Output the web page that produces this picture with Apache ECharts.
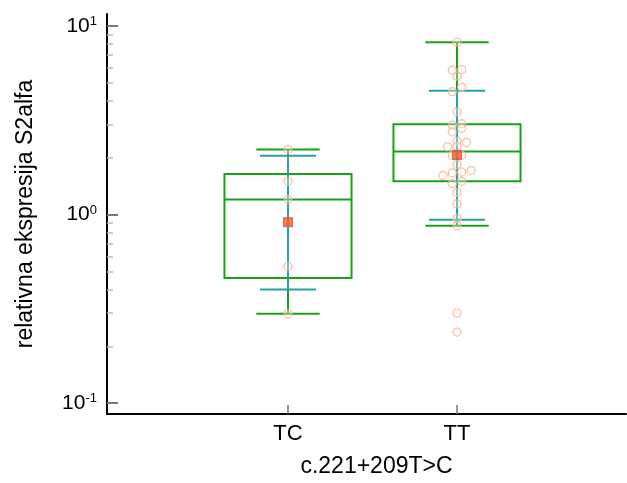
<!DOCTYPE html>
<html>
<head>
<meta charset="utf-8">
<script src="https://cdn.jsdelivr.net/npm/echarts@6/dist/echarts.min.js"></script>
<style>
html,body{margin:0;padding:0;background:#fff;}
#chart{width:627px;height:483px;}
</style>
</head>
<body>
<div id="chart"></div>
<script>
// ---- data ----
const categories = ['TC', 'TT'];
const boxQ1 = [0.46, 1.50];
const boxMedian = [1.20, 2.16];
const boxQ3 = [1.64, 3.01];
const whiskerLow = [0.298, 0.873];
const whiskerHigh = [2.21, 8.2];
const meanValues = [0.91, 2.07];
const sdLow = [0.40, 0.938];
const sdHigh = [2.05, 4.53];
const tcValues = [2.21, 1.50, 1.20, 0.53, 0.298];
const tcSlots = [0, 0, 0, 0, 0];
const ttValues = [8.21, 5.82, 5.87, 5.41, 4.73, 4.48, 3.50, 2.98, 3.03, 2.86, 2.74, 2.45, 2.41, 2.29, 2.30,
                  2.06, 2.06, 1.84, 1.61, 1.66, 1.68, 1.71, 1.46, 1.50, 1.31, 1.14, 0.953, 0.872, 0.30, 0.238];
const ttSlots = [0, -1, 1, 0, 1, -1, 0, -1, 1, 1, -1, 0, 2, -2, 0,
                 -1, 1, 0, -3, -1, 1, 3, -1, 1, 0, 0, 0, 0, 0, 0];
const yTickValues = [0.1, 1, 10];
const yMinorTickValues = [0.2, 0.3, 0.4, 0.5, 0.6, 0.7, 0.8, 0.9, 2, 3, 4, 5, 6, 7, 8, 9];
const xLabel = 'c.221+209T>C';
const yLabel = 'relativna ekspresija S2alfa';

// ---- layout / style ----
const FONT = 'Liberation Sans, Arial, sans-serif';
const GREEN = '#17a21a';
const TEAL = '#27a3a8';
const ORANGE_PT = '#f7b088';
const SLOT = 0.0278;
const BOX_HALF = 0.376, CAP_HALF = 0.1875, SD_HALF = 0.166;

const boxData = categories.map((c, i) => [i + 1, boxQ1[i], boxMedian[i], boxQ3[i], whiskerLow[i], whiskerHigh[i], sdLow[i], sdHigh[i]]);
const pointData = [];
tcValues.forEach((v, j) => pointData.push([1 + tcSlots[j] * SLOT, v]));
ttValues.forEach((v, j) => pointData.push([2 + ttSlots[j] * SLOT, v]));
const meanData = meanValues.map((v, i) => [i + 1, v]);

function line(p1, p2, color) {
  return { type: 'line', shape: { x1: p1[0], y1: p1[1], x2: p2[0], y2: p2[1] },
           style: { stroke: color, lineWidth: 2 } };
}

function renderBox(params, api) {
  const x = api.value(0);
  const q1 = api.value(1), med = api.value(2), q3 = api.value(3);
  const lo = api.value(4), hi = api.value(5), sl = api.value(6), sh = api.value(7);
  const c = (dx, v) => api.coord([x + dx, v]);
  const tl = c(-BOX_HALF, q3), br = c(BOX_HALF, q1);
  return {
    type: 'group',
    children: [
      { type: 'rect', shape: { x: tl[0], y: tl[1], width: br[0] - tl[0], height: br[1] - tl[1] },
        style: { fill: 'none', stroke: GREEN, lineWidth: 2 } },
      line(c(-BOX_HALF, med), c(BOX_HALF, med), GREEN),
      line(c(0, q3), c(0, hi), GREEN),
      line(c(0, q1), c(0, lo), GREEN),
      line(c(-CAP_HALF, hi), c(CAP_HALF, hi), GREEN),
      line(c(-CAP_HALF, lo), c(CAP_HALF, lo), GREEN),
      line(c(0, sl), c(0, sh), TEAL),
      line(c(-SD_HALF, sh), c(SD_HALF, sh), TEAL),
      line(c(-SD_HALF, sl), c(SD_HALF, sl), TEAL)
    ]
  };
}

const yMin = 0.08752, yMax = 11.57;

const chart = echarts.init(document.getElementById('chart'), null, { renderer: 'canvas' });
chart.setOption({
  animation: false,
  backgroundColor: '#fff',
  grid: { left: 107, right: 1, top: 14, bottom: 66, containLabel: false },
  xAxis: {
    type: 'value', min: -0.071, max: 3,
    axisLine: { show: true, onZero: false, lineStyle: { color: '#000', width: 2 } },
    splitLine: { show: false },
    axisTick: { show: true, customValues: [1, 2], inside: true, length: 9, lineStyle: { color: '#777', width: 1.5 } },
    axisLabel: { customValues: [1, 2], formatter: v => categories[Math.round(v) - 1], fontSize: 22, color: '#000', margin: 9, fontFamily: FONT },
    name: xLabel, nameLocation: 'middle', nameGap: 41,
    nameTextStyle: { fontSize: 23, color: '#000', fontFamily: FONT, padding: [0, 0, 0, 20] }
  },
  yAxis: [{
    type: 'log', logBase: 10, min: yMin, max: yMax,
    axisLine: { show: true, onZero: false, lineStyle: { color: '#000', width: 2 } },
    splitLine: { show: false },
    axisTick: { show: true, customValues: yTickValues, inside: true, length: 11, lineStyle: { color: '#777', width: 2 } },
    axisLabel: {
      customValues: yTickValues, margin: 10,
      formatter: v => '{b|10}{s|' + Math.round(Math.log10(v)) + '}',
      rich: {
        b: { fontSize: 21, color: '#000', fontFamily: FONT, lineHeight: 22 },
        s: { fontSize: 13, color: '#000', fontFamily: FONT, lineHeight: 13, verticalAlign: 'top' }
      }
    },
    name: yLabel, nameLocation: 'middle', nameGap: 70, nameRotate: 90,
    nameTextStyle: { fontSize: 23, color: '#000', fontFamily: FONT }
  }, {
    type: 'log', logBase: 10, min: yMin, max: yMax, position: 'left',
    axisLine: { show: false, onZero: false },
    splitLine: { show: false },
    axisLabel: { show: false },
    axisTick: { show: true, customValues: yMinorTickValues, inside: true, length: 6, lineStyle: { color: '#bbb', width: 1.5 } }
  }],
  series: [
    { type: 'custom', renderItem: renderBox, data: boxData, encode: { x: 0, y: [1, 2, 3, 4, 5, 6, 7] }, z: 2, silent: true },
    { type: 'scatter', data: pointData, symbol: 'circle', symbolSize: 8, z: 3,
      itemStyle: { color: 'rgba(255,255,255,0.4)', borderColor: ORANGE_PT, borderWidth: 1.3 } },
    { type: 'scatter', data: meanData, symbol: 'rect', symbolSize: 9, z: 4,
      itemStyle: { color: '#ff5a0a', borderColor: '#b0509a', borderWidth: 1 } }
  ]
});
</script>
</body>
</html>
